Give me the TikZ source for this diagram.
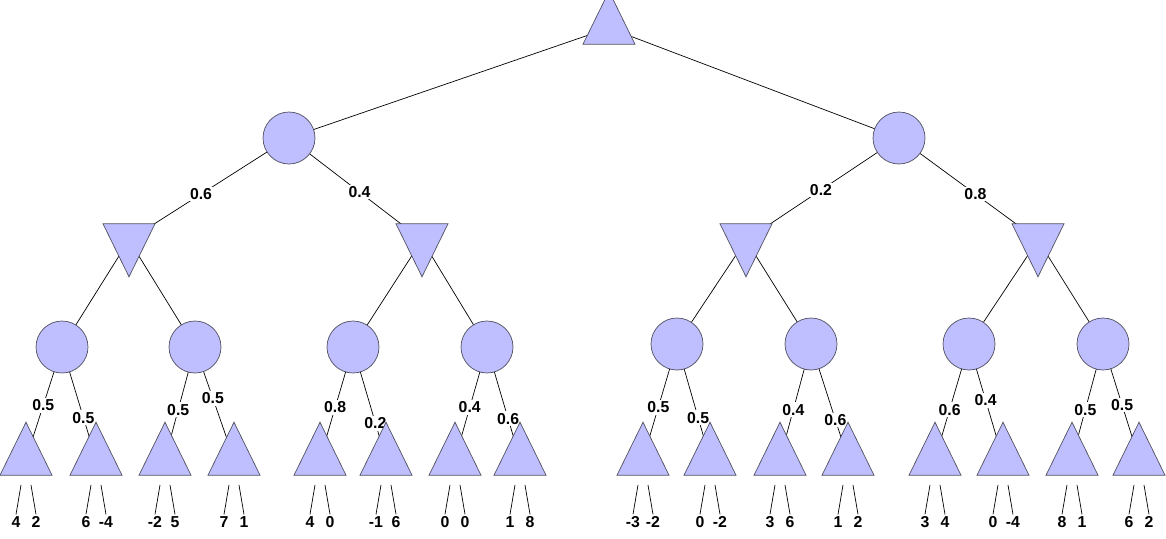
\documentclass[tikz,border=0pt]{standalone}
\usepackage{fontspec}
\setmainfont{Liberation Sans}
\usetikzlibrary{shapes.geometric}
\pgfdeclarelayer{background}
\pgfsetlayers{background,main}
\definecolor{nodefill}{HTML}{BFBFFF}
\definecolor{nodeline}{HTML}{505060}
\tikzset{
  chance/.style={circle, draw=nodeline, fill=nodefill, minimum size=1.04cm, inner sep=0pt},
  maxnode/.style={isosceles triangle, isosceles triangle stretches, shape border rotate=90,
     draw=nodeline, fill=nodefill, minimum width=1.04cm, minimum height=1.06cm, inner sep=0pt},
  minnode/.style={maxnode, shape border rotate=-90},
  prob/.style={fill=white, inner sep=1pt, font=\fontsize{9}{10}\selectfont\bfseries},
  leaf/.style={font=\fontsize{9}{10}\selectfont\bfseries, inner sep=1pt}
}
\begin{document}
\begin{tikzpicture}[x=0.02cm, y=-0.02cm]
  \useasboundingbox (0,0) rectangle (1166,538);
  \node[maxnode] (root) at (609,28) {};
  %chance nodes under the root
  \node[chance] (c1) at (289,138) {};
  \node[chance] (c2) at (899,138) {};
  %min nodes
  \foreach \name/\x in {m1/129, m2/422, m3/746, m4/1038}
    \node[minnode] (\name) at (\x,240) {};
  \begin{pgfonlayer}{background}
    \draw (root.center) -- (c1.center);
    \draw (root.center) -- (c2.center);
    \draw (c1.center) -- (m1.center) node[prob, pos=.55] {0.6};
    \draw (c1.center) -- (m2.center) node[prob, pos=.53] {0.4};
    \draw (c2.center) -- (m3.center) node[prob, pos=.51] {0.2};
    \draw (c2.center) -- (m4.center) node[prob, pos=.55] {0.8};
  \end{pgfonlayer}
  %second row of chance nodes
  \foreach \i/\x/\y/\p in {1/62/347/m1, 2/195/347/m1, 3/353/347/m2, 4/487/347/m2,
                           5/677/344/m3, 6/811/344/m3, 7/969/344/m4, 8/1103/344/m4}
  {
    \node[chance] (d\i) at (\x,\y) {};
    \begin{pgfonlayer}{background}
      \draw (\p.center) -- (d\i.center);
    \end{pgfonlayer}
  }
  %leaves: max nodes with their two payoffs
  \foreach \i/\x/\p/\w/\pr/\a/\b in {
      1/26/d1/.52/0.5/4/2, 2/96/d1/.63/0.5/6/-4, 3/165/d2/.56/0.5/-2/5, 4/234/d2/.46/0.5/7/1,
      5/320/d3/.54/0.8/4/0, 6/386/d3/.68/0.2/-1/6, 7/455/d4/.54/0.4/0/0, 8/520/d4/.64/0.6/1/8,
      9/643/d5/.55/0.5/-3/-2, 10/710/d5/.64/0.5/0/-2, 11/780/d6/.57/0.4/3/6, 12/848/d6/.66/0.6/1/2,
      13/935/d7/.57/0.6/3/4, 14/1003/d7/.49/0.4/0/-4, 15/1072/d8/.57/0.5/8/1, 16/1139/d8/.53/0.5/6/2}
  {
    \node[maxnode] (t\i) at (\x,459) {};
    \node[leaf] (la\i) at (\x-10,522) {\a};
    \node[leaf] (lb\i) at (\x+10,522) {\b};
    \coordinate (ea\i) at (\x-5,485);
    \coordinate (eb\i) at (\x+5,485);
    \draw (ea\i) -- (la\i.north);
    \draw (eb\i) -- (lb\i.north);
    \begin{pgfonlayer}{background}
      \draw (\p.center) -- (t\i.center) node[prob, pos=\w] {\pr};
    \end{pgfonlayer}
  }
\end{tikzpicture}
\end{document}
